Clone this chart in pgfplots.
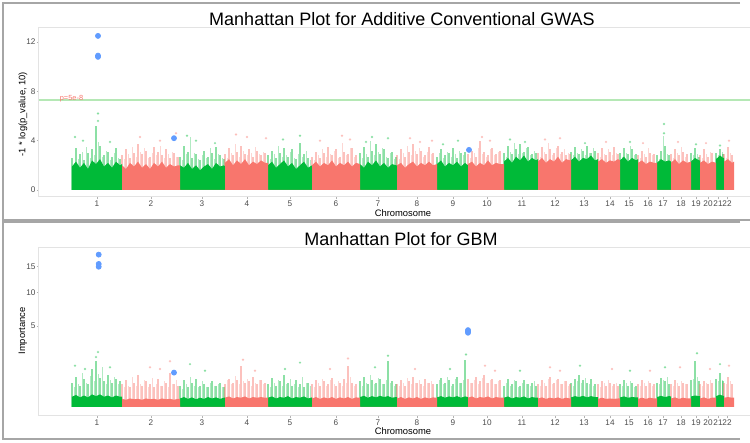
\documentclass[border=0pt]{standalone}
\usepackage{fontspec}
\setmainfont{Liberation Sans}
\usepackage{pgfplots}
\usepackage{pgfplotstable}
\pgfplotsset{compat=1.18}
\definecolor{mgreen}{HTML}{00BA38}
\definecolor{msalmon}{HTML}{F8766D}
\definecolor{mblue}{HTML}{619CFF}
\definecolor{sigc}{HTML}{B5E8B5}

% ---------- top panel (-log10 p) ----------
\pgfplotstableread{
x s h1 h2
72 0 0 0
72 1.9 2.6 2.2
76 2.3 3.4 2.5
80 1.8 2.9 3.1
84 2.2 2.4 3.5
88 1.7 3.0 2.6
92 2.4 3.3 2.8
96 2.1 5.2 3.9
100 2.5 3.6 2.7
104 1.9 2.8 3.2
108 2.2 3.1 2.4
112 1.8 2.7 3.0
116 2.3 3.4 2.6
120 2.0 2.5 0
122 2.1 0 0
122 0 0 0
180 0 0 0
180 2.0 2.7 2.4
184 1.8 3.6 2.9
188 2.2 3.1 4.3
192 1.7 2.6 3.0
196 2.0 2.9 2.5
200 1.6 2.4 2.8
204 1.9 3.2 2.6
208 2.1 2.7 3.4
212 1.7 3.0 2.5
216 2.2 3.5 2.9
220 1.9 2.8 2.6
224 2.0 2.5 0
225 1.9 0 0
225 0 0 0
268 0 0 0
268 2.0 2.8 2.5
272 2.3 3.2 2.9
276 1.8 2.6 3.6
280 2.1 3.0 2.7
284 2.4 3.4 2.8
288 1.9 2.7 3.1
292 2.2 3.3 2.6
296 1.7 2.5 2.9
300 2.0 3.8 2.7
304 2.3 2.9 3.2
308 1.8 2.6 2.4
312 2.0 0 0
312 0 0 0
360 0 0 0
360 2.1 3.0 2.6
364 1.8 3.5 2.9
368 2.3 2.7 4.0
372 2.0 3.2 2.8
376 2.4 3.7 3.1
380 1.9 2.9 3.4
384 2.2 3.3 2.7
388 1.8 2.6 3.0
392 2.1 3.1 2.5
396 2.0 2.7 0
397 2.0 0 0
397 0 0 0
437 0 0 0
437 2.1 2.7 3.0
441 2.4 3.3 2.6
445 1.9 2.8 3.1
449 2.2 3.0 2.7
453 2.0 3.4 2.9
457 2.3 2.6 3.2
461 1.9 3.0 2.8
465 2.2 3.1 0
468 2.0 0 0
468 0 0 0
504 0 0 0
504 2.3 3.0 2.7
508 2.6 3.6 3.1
512 2.2 2.9 3.8
516 2.7 3.3 2.9
520 2.4 3.7 3.0
524 2.8 3.1 3.4
528 2.3 3.5 2.8
532 2.6 2.9 3.2
536 2.4 3.0 0
538 2.5 0 0
538 0 0 0
571 0 0 0
571 2.4 3.1 2.8
575 2.7 3.5 3.0
579 2.3 2.9 3.3
583 2.6 3.2 2.8
587 2.5 3.6 3.0
591 2.8 3.0 3.4
595 2.4 3.2 0
598 2.5 0 0
598 0 0 0
620 0 0 0
620 2.4 3.0 2.7
624 2.7 3.4 3.0
628 2.3 2.9 3.6
632 2.6 3.3 2.8
636 2.4 2.9 0
638 2.5 0 0
638 0 0 0
657 0 0 0
657 2.2 2.8 2.5
661 2.5 3.2 4.4
665 2.3 3.6 2.9
669 2.4 2.8 0
671 2.3 0 0
671 0 0 0
691 0 0 0
691 2.3 3.0 2.8
695 2.6 3.4 2.9
699 2.4 2.7 0
700 2.4 0 0
700 0 0 0
716 0 0 0
716 2.5 3.0 2.8
720 2.8 3.3 3.1
723 2.6 2.9 0
724 2.6 0 0
724 0 0 0
}\topG

\pgfplotstableread{
x s h1 h2
122 0 0 0
122 2.0 2.8 2.5
126 1.7 3.3 2.9
130 2.2 2.6 3.5
134 1.9 3.0 2.7
138 2.3 3.7 3.1
142 1.8 2.9 3.4
146 2.1 3.2 2.6
150 1.7 2.7 3.0
154 2.2 3.5 2.8
158 1.9 3.1 3.6
162 2.3 2.8 2.6
166 1.8 3.3 2.9
170 2.1 2.6 3.1
174 1.9 3.0 2.7
178 2.0 2.7 0
180 2.0 0 0
180 0 0 0
225 0 0 0
225 2.2 2.9 2.6
229 2.5 3.4 3.0
233 2.0 2.8 3.7
237 2.4 3.1 2.7
241 2.1 3.6 3.2
245 2.5 2.9 2.8
249 2.0 3.3 3.0
253 2.3 2.7 3.5
257 2.1 3.2 2.9
261 2.4 2.8 3.1
265 2.2 3.0 0
268 2.2 0 0
268 0 0 0
312 0 0 0
312 2.0 2.7 2.4
316 2.3 3.1 2.8
320 1.9 2.6 3.3
324 2.2 3.0 2.7
328 2.0 3.5 2.9
332 2.4 2.8 3.2
336 1.9 3.3 2.6
340 2.2 2.7 3.8
344 2.0 3.1 2.8
348 2.3 2.9 3.4
352 1.9 3.4 2.7
356 2.2 2.8 0
360 2.1 0 0
360 0 0 0
397 0 0 0
397 2.0 2.8 2.5
401 2.2 3.3 3.0
405 1.8 2.7 3.6
409 2.1 3.1 2.8
413 2.3 3.7 3.2
417 1.9 2.9 3.4
421 2.2 3.2 2.7
425 2.0 2.8 3.1
429 2.3 3.5 2.9
433 2.0 3.0 0
437 2.1 0 0
437 0 0 0
468 0 0 0
468 2.1 2.9 2.6
472 2.3 3.2 3.0
476 1.9 2.7 3.4
480 2.2 4.0 2.9
484 2.0 3.1 2.7
488 2.4 2.8 3.3
492 2.0 3.4 2.8
496 2.2 2.9 3.1
500 2.1 3.2 0
504 2.1 0 0
504 0 0 0
538 0 0 0
538 2.3 3.0 2.7
542 2.6 3.5 3.1
546 2.2 2.9 3.8
550 2.5 3.3 2.8
554 2.3 3.0 3.4
558 2.7 3.6 2.9
562 2.2 3.1 3.3
566 2.5 2.8 3.0
570 2.4 2.9 0
571 2.4 0 0
571 0 0 0
598 0 0 0
598 2.3 3.0 2.7
602 2.5 3.4 2.9
606 2.2 2.8 3.3
610 2.4 3.1 2.8
614 2.3 3.5 3.0
618 2.5 2.9 0
620 2.4 0 0
620 0 0 0
638 0 0 0
638 2.2 2.8 2.6
642 2.4 3.2 2.9
646 2.1 2.7 3.4
650 2.3 3.0 2.8
654 2.2 2.9 0
657 2.2 0 0
657 0 0 0
671 0 0 0
671 2.2 2.9 2.6
675 2.5 3.3 3.0
679 2.1 2.8 3.5
683 2.4 3.1 2.7
687 2.2 2.9 0
691 2.3 0 0
691 0 0 0
700 0 0 0
700 2.2 2.8 2.6
704 2.4 3.3 2.9
708 2.1 2.7 3.1
712 2.3 3.0 0
716 2.2 0 0
716 0 0 0
724 0 0 0
724 2.3 2.9 2.6
728 2.5 3.5 3.0
732 2.2 2.8 0
734 2.3 0 0
734 0 0 0
}\topS

\pgfplotstableread{
x y
75 4.3
83 4.0
98 6.2
98 5.6
110 3.9
187 4.4
196 4.0
215 3.8
283 4.1
300 4.4
366 3.9
372 4.3
388 4.2
443 3.7
458 4.0
510 4.1
525 3.9
585 3.8
630 3.9
664 5.35
664 4.6
696 3.7
720 3.6
}\topGd

\pgfplotstableread{
x y
140 4.3
160 4.0
176 4.6
236 4.5
247 4.3
266 4.2
320 4.0
342 4.4
350 4.1
410 4.2
420 3.9
432 4.0
482 4.3
490 4.0
545 4.1
560 4.2
606 3.9
643 3.8
678 3.9
706 3.8
729 4.0
}\topSd

\pgfplotstableread{
x y
98 12.5
98 10.9
98 10.8
174 4.2
469 3.25
}\topB

% ---------- bottom panel (importance, square-root scale) ----------
\pgfplotstableread{
x s h1 h2
72 0 0 0
72 0.08 0.45 0.30
76 0.11 0.70 0.40
80 0.07 0.35 0.90
84 0.10 0.60 0.45
88 0.07 0.40 0.75
92 0.12 1.10 0.50
96 0.09 1.60 0.85
100 0.12 0.65 1.20
104 0.08 0.50 0.40
108 0.10 0.80 0.55
112 0.07 0.45 0.70
116 0.10 0.60 0.40
120 0.08 0.50 0
122 0.08 0 0
122 0 0 0
180 0 0 0
180 0.055 0.35 0.25
184 0.075 0.55 0.40
188 0.05 0.30 0.70
192 0.07 0.45 0.35
196 0.045 0.60 0.30
200 0.065 0.35 0.50
204 0.05 0.40 0.30
208 0.075 0.30 0.45
212 0.055 0.50 0.35
216 0.07 0.35 0.40
220 0.05 0.45 0.30
224 0.065 0.30 0
225 0.065 0 0
225 0 0 0
268 0 0 0
268 0.065 0.40 0.30
272 0.085 0.65 0.45
276 0.055 0.35 0.55
280 0.075 0.50 0.35
284 0.065 0.80 0.40
288 0.09 0.45 0.60
292 0.055 0.35 0.40
296 0.075 0.55 0.30
300 0.065 0.40 0.70
304 0.085 0.30 0.45
308 0.055 0.45 0.35
312 0.07 0 0
312 0 0 0
360 0 0 0
360 0.075 0.50 0.35
364 0.095 0.70 0.45
368 0.065 0.40 0.80
372 0.09 0.55 0.40
376 0.07 0.45 0.65
380 0.095 0.60 0.40
384 0.075 0.40 0.55
388 0.09 1.60 0.45
392 0.065 0.50 0.35
396 0.075 0.40 0
397 0.075 0 0
397 0 0 0
437 0 0 0
437 0.07 0.40 0.55
441 0.09 0.65 0.40
445 0.065 0.45 0.70
449 0.085 0.55 0.35
453 0.07 0.40 0.60
457 0.09 0.70 0.45
461 0.065 0.45 0.55
465 0.085 1.70 0
468 0.075 0 0
468 0 0 0
504 0 0 0
504 0.065 0.35 0.45
508 0.085 0.60 0.35
512 0.055 0.40 0.55
516 0.075 0.50 0.30
520 0.065 0.35 0.45
524 0.085 0.55 0.40
528 0.055 0.40 0.35
532 0.075 0.45 0.50
536 0.065 0.35 0
538 0.065 0 0
538 0 0 0
571 0 0 0
571 0.07 0.45 0.35
575 0.09 0.60 0.50
579 0.075 0.80 0.45
583 0.095 0.55 0.65
587 0.07 0.45 0.40
591 0.09 0.60 0.35
595 0.075 0.40 0
598 0.075 0 0
598 0 0 0
620 0 0 0
620 0.07 0.40 0.35
624 0.085 0.55 0.45
628 0.065 0.35 0.50
632 0.075 0.45 0.30
636 0.07 0.35 0
638 0.07 0 0
638 0 0 0
657 0 0 0
657 0.075 0.45 0.40
661 0.095 0.65 0.55
665 0.075 0.50 0.70
669 0.09 0.40 0
671 0.085 0 0
671 0 0 0
691 0 0 0
691 0.085 0.55 0.60
695 0.10 1.60 0.70
699 0.09 0.50 0
700 0.09 0 0
700 0 0 0
716 0 0 0
716 0.09 0.60 0.50
720 0.115 0.90 0.55
723 0.095 0.50 0
724 0.095 0 0
724 0 0 0
}\botG

\pgfplotstableread{
x s h1 h2
122 0 0 0
122 0.05 0.40 0.30
126 0.04 0.55 0.35
130 0.055 0.30 0.70
134 0.045 0.45 0.35
138 0.05 0.80 0.40
142 0.04 0.35 0.55
146 0.055 0.50 0.30
150 0.045 0.40 0.65
154 0.05 0.30 0.40
158 0.04 0.60 0.35
162 0.055 0.35 0.50
166 0.045 0.45 0.30
170 0.05 0.90 0.40
174 0.04 0.40 0.55
178 0.05 0.35 0
180 0.05 0 0
180 0 0 0
225 0 0 0
225 0.065 0.40 0.55
229 0.085 0.60 0.40
233 0.055 0.45 0.75
237 0.075 0.55 0.40
241 0.065 1.30 0.50
245 0.085 0.45 0.60
249 0.055 0.50 0.35
253 0.075 0.70 0.45
257 0.065 0.40 0.55
261 0.075 0.55 0.40
265 0.065 0.45 0
268 0.065 0 0
268 0 0 0
312 0 0 0
312 0.055 0.40 0.30
316 0.075 0.55 0.45
320 0.05 0.35 0.60
324 0.07 0.50 0.35
328 0.055 0.40 0.55
332 0.075 0.65 0.40
336 0.05 0.35 0.50
340 0.07 0.45 0.35
344 0.055 0.60 0.45
348 0.075 1.30 0.70
352 0.05 0.45 0.35
356 0.07 0.40 0
360 0.065 0 0
360 0 0 0
397 0 0 0
397 0.055 0.40 0.35
401 0.075 0.55 0.45
405 0.05 0.35 0.65
409 0.07 0.50 0.40
413 0.055 0.70 0.45
417 0.075 0.45 0.55
421 0.05 0.40 0.35
425 0.07 0.60 0.45
429 0.055 0.45 0.50
433 0.07 0.40 0
437 0.065 0 0
437 0 0 0
468 0 0 0
468 0.065 0.60 0.45
472 0.085 0.45 0.55
476 0.055 0.70 0.40
480 0.075 0.50 0.65
484 0.065 0.80 0.45
488 0.085 0.45 0.55
492 0.055 0.60 0.40
496 0.075 0.40 0.50
500 0.065 0.55 0
504 0.065 0 0
504 0 0 0
538 0 0 0
538 0.055 0.40 0.35
542 0.07 0.55 0.45
546 0.05 0.35 0.60
550 0.065 0.70 0.40
554 0.055 0.45 0.55
558 0.07 0.60 0.40
562 0.05 0.40 0.50
566 0.065 0.50 0.35
570 0.055 0.40 0
571 0.055 0 0
571 0 0 0
598 0 0 0
598 0.05 0.40 0.30
602 0.065 0.50 0.45
606 0.05 0.35 0.55
610 0.055 0.45 0.35
614 0.05 0.40 0.45
618 0.055 0.35 0
620 0.055 0 0
620 0 0 0
638 0 0 0
638 0.05 0.40 0.35
642 0.065 0.55 0.45
646 0.05 0.35 0.50
650 0.065 0.45 0.35
654 0.055 0.40 0
657 0.055 0 0
657 0 0 0
671 0 0 0
671 0.055 0.40 0.35
675 0.07 0.55 0.45
679 0.05 0.35 0.50
683 0.065 0.45 0.40
687 0.055 0.40 0
691 0.055 0 0
691 0 0 0
700 0 0 0
700 0.055 0.40 0.35
704 0.07 0.50 0.45
708 0.05 0.40 0.55
712 0.065 0.45 0
716 0.065 0 0
716 0 0 0
724 0 0 0
724 0.065 0.45 0.40
728 0.075 0.70 0.50
732 0.065 0.40 0
734 0.065 0 0
734 0 0 0
}\botS

\pgfplotstableread{
x y
75 1.3
85 1.1
96 1.9
98 2.3
110 1.2
190 1.4
205 1.0
285 1.1
300 1.5
375 1.2
388 2.0
450 1.1
466 2.1
520 1.0
580 1.3
630 1.0
665 1.2
697 2.2
720 1.4
}\botGd

\pgfplotstableread{
x y
150 1.2
160 1.1
170 1.6
243 1.7
255 1.0
330 1.1
348 1.8
415 1.1
485 1.3
495 1.0
550 1.2
560 1.0
612 1.1
650 1.0
680 1.2
710 1.1
729 1.3
}\botSd

\pgfplotstableread{
x y
98.7 17.7
98.7 15.6
98.7 15.0
174 0.9
468 4.5
468 4.35
468 4.2
}\botB

\pgfplotsset{
  mh/.style={
    scale only axis, width=364pt, xmin=39, xmax=767,
    axis line style={draw=gray!22, line width=0.5pt},
    tick align=outside, tick pos=left, major tick length=1.2pt,
    tick style={draw=gray!60, line width=0.4pt},
    xtick={97,151,202,247,290,336,378,417,453,487,522,555,584,610,629,648,663,681,696,708,718,727},
    xticklabels={1,2,3,4,5,6,7,8,9,10,11,12,13,14,15,16,17,18,19,20,21,22},
    ticklabel style={font=\fontsize{4.1}{5}\selectfont, text=black!70},
    xticklabel style={yshift=3pt},
    yticklabel style={xshift=3pt},
    /pgf/number format/assume math mode=true,
    label style={font=\fontsize{4.7}{5.6}\selectfont},
    xlabel={Chromosome},
  },
  solidG/.style={fill=mgreen, draw=none},
  solidS/.style={fill=msalmon, draw=none},
  stickA/.style={ycomb, no marks, line width=0.55pt, opacity=0.45},
  stickB/.style={ycomb, no marks, line width=0.45pt, opacity=0.3},
  dotst/.style={only marks, mark=*, mark size=0.4pt, opacity=0.3},
  bluept/.style={color=mblue, only marks, mark=*, mark size=1.25pt, mark options={draw=mblue, fill=mblue}},
}

\begin{document}
\begin{tikzpicture}
\useasboundingbox (0,0) rectangle (375pt,221.5pt);
\begin{scope}[x=0.5pt, y=-0.5pt, shift={(0pt,221.5pt)}]
  \draw[gray!70, line width=0.6pt] (740,3) -- (3,3) -- (3,220) -- (750,220);
  \draw[gray!70, line width=0.6pt] (740,222) -- (3,222) -- (3,439) -- (740,439);
  \node[font=\fontsize{9}{11}\selectfont] at (402,19.5) {Manhattan Plot for Additive Conventional GWAS};
  \node[font=\fontsize{9}{11}\selectfont] at (401,239.5) {Manhattan Plot for GBM};
\end{scope}

% top panel
\begin{axis}[mh, at={(19.5pt,123pt)}, anchor=south west, height=84.5pt,
  ymin=-0.57, ymax=13.14, ytick={0,4,8,12},
  ylabel={-1 * log(p\_value, 10)},
  ylabel style={at={(axis description cs:-0.022,0.49)}, anchor=center},
  xlabel style={at={(axis description cs:0.5,-0.095)}, anchor=center},
  ]
  \addplot[stickA, draw=mgreen] table[x=x, y=h1] {\topG};
  \addplot[stickB, draw=mgreen] table[x expr=\thisrow{x}+2, y=h2] {\topG};
  \addplot[stickA, draw=msalmon] table[x=x, y=h1] {\topS};
  \addplot[stickB, draw=msalmon] table[x expr=\thisrow{x}+2, y=h2] {\topS};
  \addplot[solidG] table[x=x, y=s] {\topG};
  \addplot[solidS] table[x=x, y=s] {\topS};
  \addplot[dotst, color=mgreen] table {\topGd};
  \addplot[dotst, color=msalmon] table {\topSd};
  \addplot[draw=sigc, line width=0.55pt] coordinates {(39,7.3) (767,7.3)};
  \node[text=msalmon, font=\fontsize{3.7}{4}\selectfont] at (axis cs:71.5,7.42) {p=5e-8};
  \addplot[bluept] table {\topB};
\end{axis}

% bottom panel
\begin{axis}[mh, at={(19.5pt,13.5pt)}, anchor=south west, height=84pt,
  ymin=-0.249, ymax=4.39,
  ytick={2.23607,3.16228,3.87298}, yticklabels={5,10,15},
  ylabel={Importance},
  ylabel style={at={(axis description cs:-0.022,0.506)}, anchor=center},
  xlabel style={at={(axis description cs:0.5,-0.089)}, anchor=center},
  ]
  \addplot[stickA, draw=mgreen] table[x=x, y expr=sqrt(\thisrow{h1})] {\botG};
  \addplot[stickB, draw=mgreen] table[x expr=\thisrow{x}+2, y expr=sqrt(\thisrow{h2})] {\botG};
  \addplot[stickA, draw=msalmon] table[x=x, y expr=sqrt(\thisrow{h1})] {\botS};
  \addplot[stickB, draw=msalmon] table[x expr=\thisrow{x}+2, y expr=sqrt(\thisrow{h2})] {\botS};
  \addplot[solidG] table[x=x, y expr=sqrt(\thisrow{s})] {\botG};
  \addplot[solidS] table[x=x, y expr=sqrt(\thisrow{s})] {\botS};
  \addplot[dotst, color=mgreen] table[x=x, y expr=sqrt(\thisrow{y})] {\botGd};
  \addplot[dotst, color=msalmon] table[x=x, y expr=sqrt(\thisrow{y})] {\botSd};
  \addplot[bluept] table[x=x, y expr=sqrt(\thisrow{y})] {\botB};
\end{axis}
\end{tikzpicture}
\end{document}
